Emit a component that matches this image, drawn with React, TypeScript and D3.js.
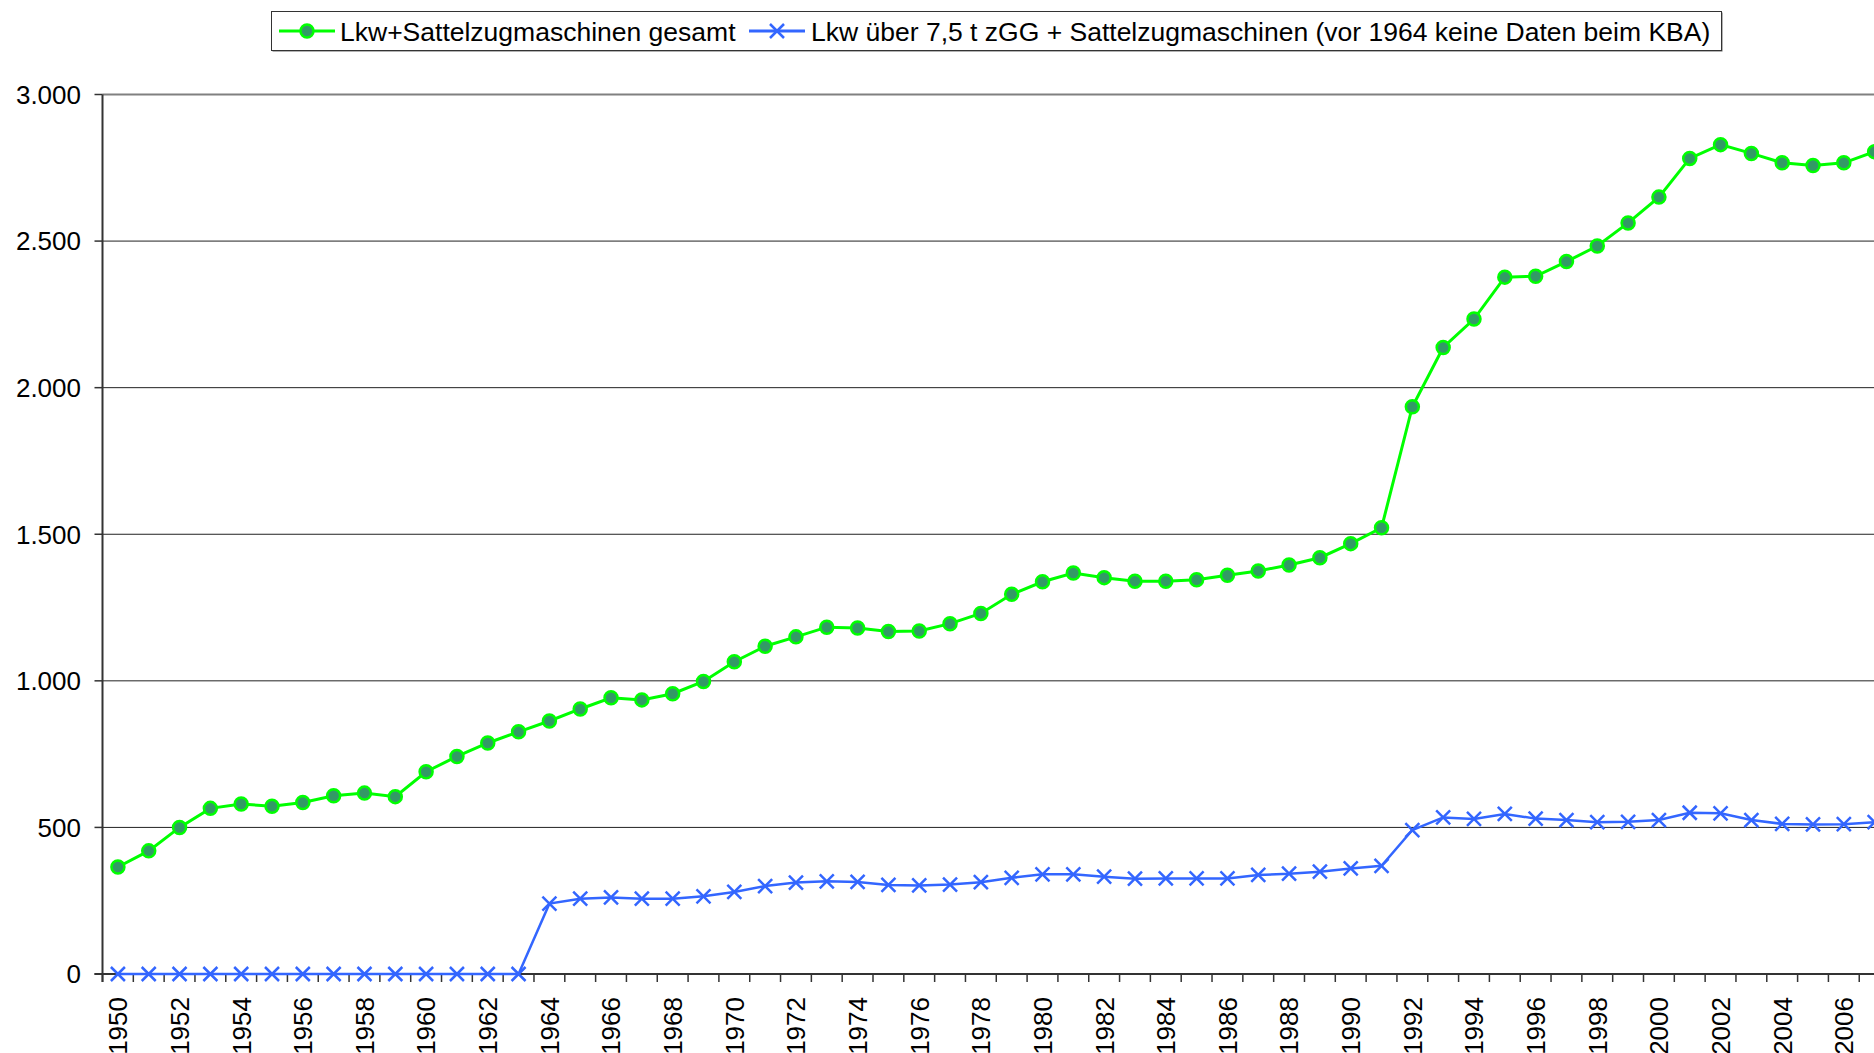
import { useEffect } from 'react';
import * as d3 from 'd3';

const years = d3.range(1950, 2008).map(String);

const totalTrucks = [
  365, 420, 500, 565, 580, 572, 585, 608, 617, 605,
  690, 742, 788, 826, 863, 904, 942, 935, 956, 998,
  1065, 1118, 1150, 1183, 1180, 1168, 1170, 1195, 1230, 1295,
  1338, 1368, 1352, 1340, 1340, 1345, 1360, 1375, 1395, 1420,
  1468, 1522, 1935, 2137, 2234, 2377, 2380, 2430, 2483, 2562,
  2650, 2782, 2829, 2799, 2767, 2758, 2767, 2805
];

const heavyTrucks = [
  0, 0, 0, 0, 0, 0, 0, 0, 0, 0,
  0, 0, 0, 0, 240, 257, 261, 257, 257, 265,
  280, 300, 312, 316, 314, 304, 302, 305, 313, 328,
  340, 340, 332, 325, 326, 326, 326, 338, 342, 349,
  360, 369, 491, 534, 529, 546, 530, 525, 518, 519,
  525, 550, 548, 525, 512, 510, 511, 518
];

const yTicks = [0, 500, 1000, 1500, 2000, 2500, 3000];
const legendLabels = [
  'Lkw+Sattelzugmaschinen gesamt',
  'Lkw über 7,5 t zGG + Sattelzugmaschinen (vor 1964 keine Daten beim KBA)'
];

const width = 1874;
const height = 1053;
const left = 102.5;
const step = 30.82;
const font = '"Liberation Sans", Arial, sans-serif';
const green = '#00ff00';
const greenFill = '#339966';
const blue = '#3366ff';

const fmt = (v: number) => (v === 0 ? '0' : d3.format(',')(v).replace(/,/g, '.'));

function Cross({ cx, cy, r = 7 }: { cx: number; cy: number; r?: number }) {
  return (
    <path
      d={`M${cx - r},${cy - r}L${cx + r},${cy + r}M${cx - r},${cy + r}L${cx + r},${cy - r}`}
      stroke={blue}
      strokeWidth={2.5}
      fill="none"
    />
  );
}

export default function App() {
  useEffect(() => {
    document.body.style.margin = '0';
    document.body.style.overflow = 'hidden';
  }, []);

  const x = d3.scaleBand<string>()
    .domain(years)
    .range([left, left + years.length * step])
    .paddingInner(0)
    .paddingOuter(0);
  const cx = (yr: string) => (x(yr) ?? 0) + x.bandwidth() / 2;
  const y = d3.scaleLinear([0, 3000], [974, 94.5]);

  const line = d3.line<number>((d, i) => cx(years[i]), (d) => y(d));
  const right = left + years.length * step;

  return (
    <svg
      width={width}
      height={height}
      style={{ position: 'absolute', left: 0, top: 0, display: 'block', background: '#fff' }}
      fontFamily={font}
    >
      {/* gridlines */}
      {yTicks.filter(t => t > 0).map(t => (
        <line
          key={t}
          x1={left}
          x2={right}
          y1={y(t)}
          y2={y(t)}
          stroke={t === 3000 ? '#808080' : '#222'}
          strokeWidth={t === 3000 ? 2 : 1}
        />
      ))}
      {/* y ticks and labels */}
      {yTicks.map(t => (
        <g key={t}>
          <line x1={left - 8} x2={left} y1={y(t)} y2={y(t)} stroke="#333" strokeWidth={1.5} />
          <text x={81} y={y(t)} dy="0.36em" textAnchor="end" fontSize={26} fill="#000">
            {fmt(t)}
          </text>
        </g>
      ))}
      {/* axes */}
      <line x1={left} x2={left} y1={y(3000)} y2={y(0) + 8} stroke="#333" strokeWidth={2} />
      <line x1={left - 8} x2={right} y1={y(0)} y2={y(0)} stroke="#333" strokeWidth={2} />
      {years.map(yr => (
        <line key={yr} x1={x(yr)!} x2={x(yr)!} y1={y(0)} y2={y(0) + 8} stroke="#333" strokeWidth={1.5} />
      ))}
      {years.filter((yr, i) => i % 2 === 0).map(yr => (
        <text
          key={yr}
          transform={`translate(${cx(yr)},997) rotate(-90)`}
          dy="0.36em"
          textAnchor="end"
          fontSize={26}
          fill="#000"
        >
          {yr}
        </text>
      ))}

      {/* blue series */}
      <path d={line(heavyTrucks) ?? ''} fill="none" stroke={blue} strokeWidth={2.5} />
      {heavyTrucks.map((d, i) => (
        <Cross key={i} cx={cx(years[i])} cy={y(d)} />
      ))}

      {/* green series */}
      <path d={line(totalTrucks) ?? ''} fill="none" stroke={green} strokeWidth={3} />
      {totalTrucks.map((d, i) => (
        <circle key={i} cx={cx(years[i])} cy={y(d)} r={6.5} fill={greenFill} stroke={green} strokeWidth={2.5} />
      ))}

      {/* legend */}
      <rect x={272.5} y={12.5} width={1450} height={39} fill="#666" />
      <rect x={271.5} y={11.5} width={1450} height={39} fill="#fff" stroke="#333" strokeWidth={1} />
      <line x1={279} x2={335} y1={31} y2={31} stroke={green} strokeWidth={3} />
      <circle cx={307} cy={31} r={6.5} fill={greenFill} stroke={green} strokeWidth={2.5} />
      <text x={340} y={31} dy="0.36em" fontSize={26.5} fill="#000">{legendLabels[0]}</text>
      <line x1={749} x2={805} y1={31} y2={31} stroke={blue} strokeWidth={3} />
      <Cross cx={777} cy={31} />
      <text x={811} y={31} dy="0.36em" fontSize={26.5} fill="#000">{legendLabels[1]}</text>
    </svg>
  );
}
